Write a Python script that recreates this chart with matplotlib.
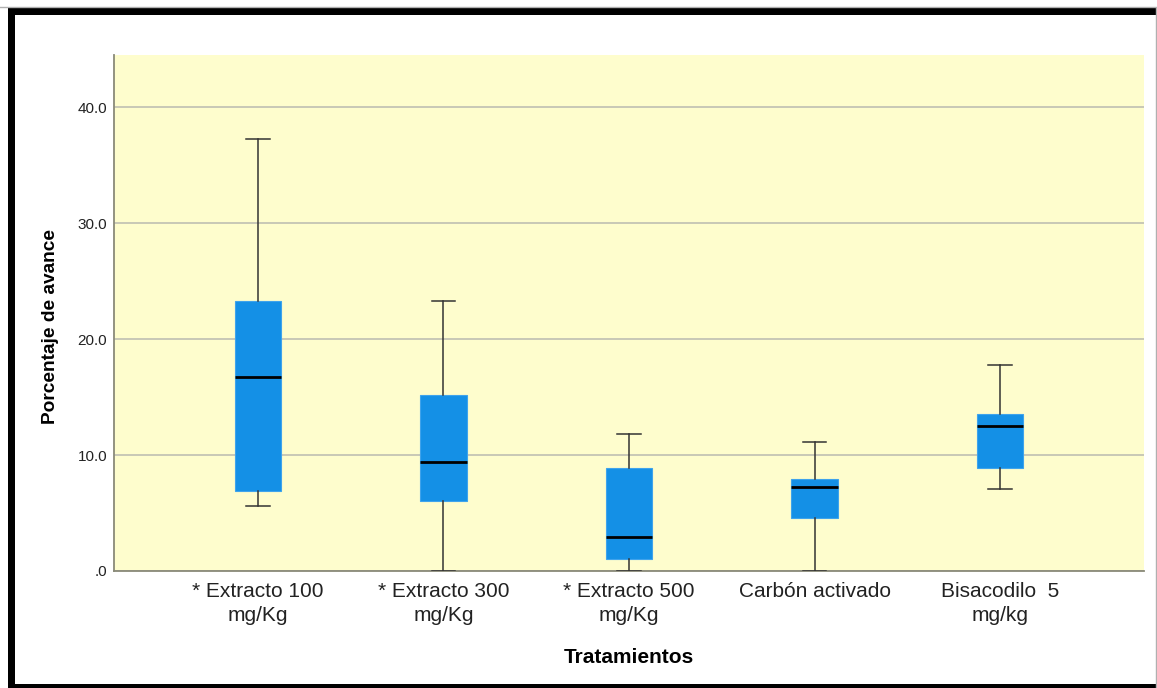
import matplotlib
matplotlib.use("Agg")
import matplotlib.pyplot as plt
from matplotlib.patches import Rectangle
from matplotlib.lines import Line2D

plt.rcParams['font.family'] = ['Liberation Sans', 'DejaVu Sans']

categories = ["* Extracto 100\nmg/Kg", "* Extracto 300\nmg/Kg", "* Extracto 500\nmg/Kg",
              "Carbón activado", "Bisacodilo  5\nmg/kg"]
whisker_low = [5.6, 0.0, 0.0, 0.0, 7.05]
q1 = [6.9, 6.0, 1.05, 4.6, 8.9]
median = [16.7, 9.4, 2.95, 7.25, 12.5]
q3 = [23.25, 15.15, 8.85, 7.95, 13.5]
whisker_high = [37.25, 23.25, 11.8, 11.1, 17.8]
yticks = [0, 10, 20, 30, 40]
ytick_labels = [".0", "10.0", "20.0", "30.0", "40.0"]

W, H = 1157, 688
fig = plt.figure(figsize=(W / 100, H / 100), dpi=100)
fig.patch.set_facecolor("white")

ax = fig.add_axes([114 / W, 1 - 571 / H, (1144 - 114) / W, (571 - 55) / H])
ax.set_facecolor("#FEFDCD")

stats = []
for i in range(len(categories)):
    stats.append(dict(whislo=whisker_low[i], q1=q1[i], med=median[i], q3=q3[i],
                      whishi=whisker_high[i], fliers=[]))

ax.bxp(stats, positions=range(len(categories)), widths=0.25, patch_artist=True,
       showfliers=False,
       boxprops=dict(facecolor="#1490E6", edgecolor="#3FA3EC", linewidth=0.8),
       medianprops=dict(color="black", linewidth=2.0),
       whiskerprops=dict(color="#333333", linewidth=1.1),
       capprops=dict(color="#333333", linewidth=1.1),
       capwidths=0.125, zorder=3)

ax.set_xlim(-0.776, 4.776)
ax.set_ylim(0, 44.5)
ax.set_yticks(yticks)
ax.set_yticklabels(ytick_labels, fontsize=11, color="#222222")
ax.set_xticks(range(len(categories)))
ax.set_xticklabels(categories, fontsize=15, color="#222222", linespacing=1.3)
ax.tick_params(axis="both", length=0)
ax.tick_params(axis="x", pad=8)
ax.tick_params(axis="y", pad=5)

ax.yaxis.grid(True, color="#C4C4B4", linewidth=1.3, zorder=0)
ax.set_axisbelow(True)
for s in ["top", "right"]:
    ax.spines[s].set_visible(False)
for s in ["left", "bottom"]:
    ax.spines[s].set_color("#8A8A78")
    ax.spines[s].set_linewidth(1.3)

fig.text(55 / W, 1 - 326.5 / H, "Porcentaje de avance", fontsize=13.8, fontweight="bold",
         rotation=90, rotation_mode="anchor", ha="center", va="baseline", color="black")
fig.text(629 / W, 1 - 663 / H, "Tratamientos", fontsize=15, fontweight="bold",
         ha="center", va="baseline", color="black")

# Frame around the figure
fig.add_artist(Line2D([0, 1], [1 - 7 / H, 1 - 7 / H], transform=fig.transFigure,
                      color="#B0B0B0", linewidth=1))
fig.add_artist(Rectangle((8 / W, 0), (W - 8) / W, 4 / H, transform=fig.transFigure,
                         facecolor="black", edgecolor="none"))
fig.add_artist(Rectangle((8 / W, 1 - 15 / H), (W - 8) / W, 7 / H, transform=fig.transFigure,
                         facecolor="black", edgecolor="none"))
fig.add_artist(Rectangle((8 / W, 0), 7 / W, 1 - 8 / H, transform=fig.transFigure,
                         facecolor="black", edgecolor="none"))
fig.add_artist(Line2D([1 - 1.5 / W, 1 - 1.5 / W], [0, 1 - 8 / H], transform=fig.transFigure,
                      color="#B0B0B0", linewidth=1))

fig.savefig("out.png", dpi=100)
